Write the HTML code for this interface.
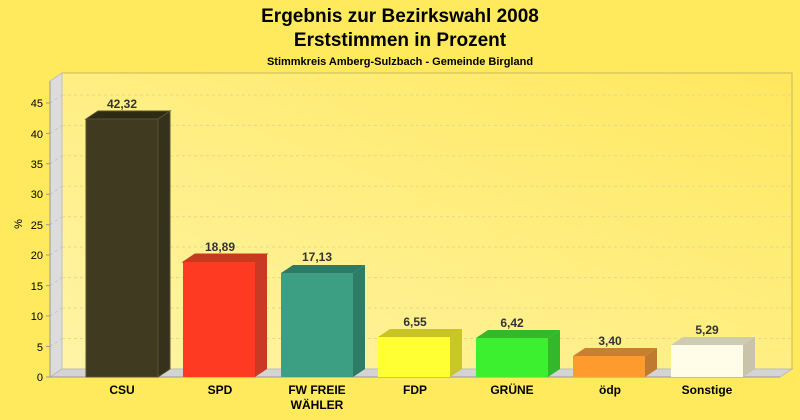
<!DOCTYPE html>
<html><head><meta charset="utf-8"><style>
body{margin:0;width:800px;height:420px;overflow:hidden;background:#ffe95c;}
svg{display:block;font-family:"Liberation Sans",Arial,sans-serif;}
</style></head><body>
<svg width="800" height="420" viewBox="0 0 800 420" xmlns="http://www.w3.org/2000/svg">
<defs>
<linearGradient id="wall" x1="0" y1="1" x2="1" y2="0">
<stop offset="0" stop-color="#fff4a6"/><stop offset="1" stop-color="#ffe85e"/>
</linearGradient>
</defs>
<rect width="800" height="420" fill="#ffe95c"/>
<text x="400" y="22" font-size="19" font-weight="bold" text-anchor="middle" fill="#000">Ergebnis zur Bezirkswahl 2008</text>
<text x="400" y="46" font-size="19" font-weight="bold" text-anchor="middle" fill="#000">Erststimmen in Prozent</text>
<text x="400" y="65" font-size="11" font-weight="bold" text-anchor="middle" fill="#000">Stimmkreis Amberg-Sulzbach - Gemeinde Birgland</text>
<rect x="62" y="73" width="730" height="296" fill="url(#wall)" stroke="#c8b860" stroke-width="1"/>
<polygon points="50,81 62,73 62,369 50,377" fill="#dcdcdc" stroke="#c0c0c0"/>
<polygon points="50,377 62,369 792,369 780,377" fill="#d4d4d4" stroke="#bbb"/>
<g stroke="#e6d88a" stroke-dasharray="3,3" stroke-width="1" fill="none">
<line x1="62" y1="338.5" x2="792" y2="338.5"/><line x1="62" y1="308" x2="792" y2="308"/>
<line x1="62" y1="277.6" x2="792" y2="277.6"/><line x1="62" y1="247" x2="792" y2="247"/>
<line x1="62" y1="216.7" x2="792" y2="216.7"/><line x1="62" y1="186.3" x2="792" y2="186.3"/>
<line x1="62" y1="155.8" x2="792" y2="155.8"/><line x1="62" y1="125.4" x2="792" y2="125.4"/>
<line x1="62" y1="95" x2="792" y2="95"/>
</g>
<g stroke="#c4c4c4" stroke-dasharray="3,3" stroke-width="1">
<line x1="50" y1="346.5" x2="62" y2="338.5"/><line x1="50" y1="316" x2="62" y2="308"/><line x1="50" y1="285.6" x2="62" y2="277.6"/><line x1="50" y1="255" x2="62" y2="247"/><line x1="50" y1="224.7" x2="62" y2="216.7"/><line x1="50" y1="194.3" x2="62" y2="186.3"/><line x1="50" y1="163.8" x2="62" y2="155.8"/><line x1="50" y1="133.4" x2="62" y2="125.4"/><line x1="50" y1="103" x2="62" y2="95"/>
</g>
<line x1="50" y1="81" x2="50" y2="377" stroke="#999"/>
<line x1="50" y1="377" x2="780" y2="377" stroke="#999"/>
<g font-size="11" fill="#000" text-anchor="end">
<text x="43" y="381">0</text><text x="43" y="351">5</text><text x="43" y="320">10</text>
<text x="43" y="290">15</text><text x="43" y="259">20</text><text x="43" y="229">25</text>
<text x="43" y="198">30</text><text x="43" y="168">35</text><text x="43" y="138">40</text><text x="43" y="107">45</text>
</g>
<g stroke="#999"><line x1="46" y1="377" x2="50" y2="377"/><line x1="46" y1="346.5" x2="50" y2="346.5"/><line x1="46" y1="316" x2="50" y2="316"/><line x1="46" y1="285.6" x2="50" y2="285.6"/><line x1="46" y1="255" x2="50" y2="255"/><line x1="46" y1="224.7" x2="50" y2="224.7"/><line x1="46" y1="194.3" x2="50" y2="194.3"/><line x1="46" y1="163.8" x2="50" y2="163.8"/><line x1="46" y1="133.4" x2="50" y2="133.4"/><line x1="46" y1="103" x2="50" y2="103"/></g>
<text x="22" y="224" font-size="11" fill="#000" transform="rotate(-90 22 224)" text-anchor="middle">%</text>

<g stroke-width="1">
<polygon points="86,119 98,111 170,111 158,119" fill="#2e2a16" stroke="#5a5230"/>
<polygon points="158,119 170,111 170,369 158,377" fill="#36311a" stroke="#5a5230"/>
<rect x="86" y="119" width="72" height="258" fill="#3f3a20" stroke="#5a5230"/>
<polygon points="183,262 195,254 267,254 255,262" fill="#c83a1e" stroke="#c83a1e"/>
<polygon points="255,262 267,254 267,369 255,377" fill="#c83a24"/>
<rect x="183" y="262" width="72" height="115" fill="#ff3a22"/>
<polygon points="281,273 293,265 365,265 353,273" fill="#2f7a62"/>
<polygon points="353,273 365,265 365,369 353,377" fill="#2e7c66"/>
<rect x="281" y="273" width="72" height="104" fill="#3c9f84"/>
<polygon points="378,337 390,329 462,329 450,337" fill="#c8c424"/>
<polygon points="450,337 462,329 462,369 450,377" fill="#c8c628"/>
<rect x="378" y="337" width="72" height="40" fill="#ffff33"/>
<polygon points="476,338 488,330 560,330 548,338" fill="#34b82a"/>
<polygon points="548,338 560,330 560,369 548,377" fill="#32b82a"/>
<rect x="476" y="338" width="72" height="39" fill="#3cf030"/>
<polygon points="573,356 585,348 657,348 645,356" fill="#c88030"/>
<polygon points="645,356 657,348 657,369 645,377" fill="#c07a30"/>
<rect x="573" y="356" width="72" height="21" fill="#ff9a2e"/>
<polygon points="671,345 683,337 755,337 743,345" fill="#cfcbb0"/>
<polygon points="743,345 755,337 755,369 743,377" fill="#c8c4aa"/>
<rect x="671" y="345" width="72" height="32" fill="#fffde8"/>
</g>
<g font-size="12" font-weight="bold" fill="#333" text-anchor="middle">
<text x="122" y="108">42,32</text><text x="220" y="251">18,89</text><text x="317" y="261">17,13</text>
<text x="415" y="326">6,55</text><text x="512" y="327">6,42</text><text x="610" y="345">3,40</text><text x="707" y="334">5,29</text>
</g>
<g font-size="12" font-weight="bold" fill="#000" text-anchor="middle">
<text x="122" y="394">CSU</text><text x="220" y="394">SPD</text><text x="317" y="394">FW FREIE</text><text x="317" y="409">WÄHLER</text>
<text x="415" y="394">FDP</text><text x="512" y="394">GRÜNE</text><text x="610" y="394">ödp</text><text x="707" y="394">Sonstige</text>
</g>
</svg>
</body></html>
